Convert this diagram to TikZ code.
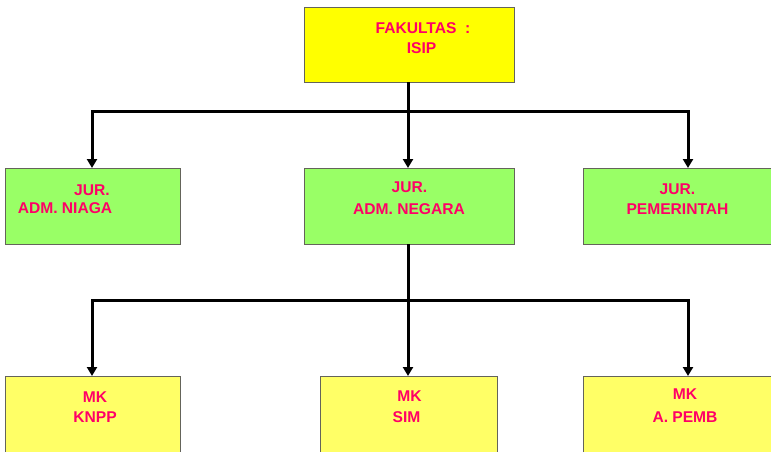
\documentclass[tikz,border=0pt]{standalone}
\usepackage{fontspec}
\setmainfont{Liberation Sans}
\usetikzlibrary{arrows.meta}
\definecolor{topfill}{RGB}{255,255,0}
\definecolor{jurfill}{RGB}{153,255,102}
\definecolor{mkfill}{RGB}{255,255,102}
\definecolor{boxline}{RGB}{100,100,90}
\definecolor{labelred}{RGB}{255,0,102}
\tikzset{
  unitbox/.style={draw=boxline, line width=1.4pt, anchor=north west, inner sep=0pt},
  label text/.style={text=labelred, font=\fontsize{15.6}{15.6}\selectfont\bfseries, anchor=base, inner sep=0pt},
  link/.style={line width=3pt, line cap=rect},
  arrowlink/.style={line width=3pt, -{Triangle[width=10pt,length=9pt]}},
}
\begin{document}
\begin{tikzpicture}[x=1pt,y=-1pt]
  \useasboundingbox (0,0) rectangle (771,451);
  \clip (0,0) rectangle (771,451);

  % boxes
  \node[unitbox, fill=topfill, minimum width=210pt, minimum height=75pt] (fak) at (304,7) {};
  \node[unitbox, fill=jurfill, minimum width=175pt, minimum height=76pt] (niaga) at (5,168) {};
  \node[unitbox, fill=jurfill, minimum width=210pt, minimum height=76pt] (negara) at (304,168) {};
  \node[unitbox, fill=jurfill, minimum width=210pt, minimum height=76pt] (pem) at (583,168) {};
  \node[unitbox, fill=mkfill, minimum width=175pt, minimum height=90pt] (knpp) at (5,376) {};
  \node[unitbox, fill=mkfill, minimum width=177pt, minimum height=90pt] (sim) at (320,376) {};
  \node[unitbox, fill=mkfill, minimum width=210pt, minimum height=90pt] (apemb) at (583,376) {};

  % texts
  \node[label text] (t1a) at (423,33) {FAKULTAS\ \ :};
  \node[label text] (t1b) at (421.5,53) {ISIP};
  \node[label text] (t2a) at (92,195) {JUR.};
  \node[label text] (t2b) at (65,213) {ADM. NIAGA};
  \node[label text] (t3a) at (409.5,192) {JUR.};
  \node[label text] (t3b) at (409,214) {ADM. NEGARA};
  \node[label text] (t4a) at (677.5,194) {JUR.};
  \node[label text] (t4b) at (677.5,214) {PEMERINTAH};
  \node[label text] (t5a) at (95,402) {MK};
  \node[label text] (t5b) at (95,422) {KNPP};
  \node[label text] (t6a) at (409.5,401) {MK};
  \node[label text] (t6b) at (406.5,422) {SIM};
  \node[label text] (t7a) at (685,399) {MK};
  \node[label text] (t7b) at (685,422) {A. PEMB};

  % bus coordinates
  \coordinate (busA) at (408,111);
  \coordinate (busAl) at (92,111);
  \coordinate (busAr) at (688,111);
  \coordinate (busB) at (408,300);
  \coordinate (busBl) at (92,300);
  \coordinate (busBr) at (688,300);

  % faculty to departments
  \draw[link] (fak.south -| busA) -- (busA);
  \draw[link] (busAl) -- (busAr);
  \draw[arrowlink] (busAl) -- (busAl |- niaga.north);
  \draw[arrowlink] (busA) -- (busA |- negara.north);
  \draw[arrowlink] (busAr) -- (busAr |- pem.north);

  % department to courses
  \draw[link] (negara.south -| busB) -- (busB);
  \draw[link] (busBl) -- (busBr);
  \draw[arrowlink] (busBl) -- (busBl |- knpp.north);
  \draw[arrowlink] (busB) -- (busB |- sim.north);
  \draw[arrowlink] (busBr) -- (busBr |- apemb.north);
\end{tikzpicture}
\end{document}
